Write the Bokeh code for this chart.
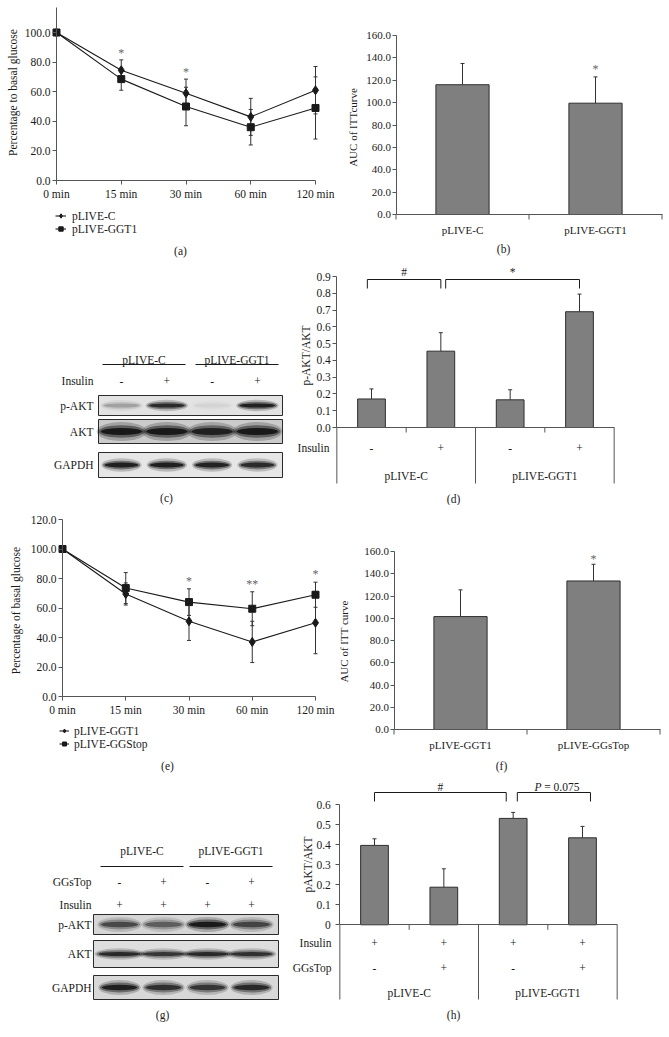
import numpy as np
from bokeh.plotting import figure
from bokeh.models import Range1d, LinearAxis, FixedTicker, NumeralTickFormatter, Legend, LegendItem
from bokeh.layouts import column, row
from bokeh.core.properties import value
from bokeh.embed import file_html
from bokeh.resources import INLINE

FONT = "Liberation Serif"
INK = "#1a1a1a"
AXIS = "#555555"
ERR = "#333333"
STAR = "#666666"
BAR_FILL = "#7f7f7f"
BAR_LINE = "#2e2e2e"

# ---------------- data ----------------
time_labels = ["0 min", "15 min", "30 min", "60 min", "120 min"]

a_ctrl = [100.0, 74.5, 59.0, 43.0, 61.0]
a_ctrl_err = [0.0, 7.0, 9.5, 12.5, 16.0]
a_ggt1 = [100.0, 68.5, 50.0, 36.0, 49.0]
a_ggt1_err = [0.0, 7.5, 13.0, 12.0, 21.0]
a_sig = ["", "*", "*", "", ""]

b_groups = ["pLIVE-C", "pLIVE-GGT1"]
b_auc = [116.0, 99.5]
b_err = [19.0, 23.5]
b_sig = ["", "*"]

c_groups = ["pLIVE-C", "pLIVE-GGT1"]
c_insulin = ["-", "+", "-", "+"]
c_rows = ["p-AKT", "AKT", "GAPDH"]
c_pakt = [0.22, 0.85, 0.04, 0.95]
c_akt = [1.0, 1.0, 0.92, 1.0]
c_gapdh = [0.95, 0.95, 0.92, 0.85]

d_ratio = [0.17, 0.455, 0.165, 0.69]
d_err = [0.06, 0.11, 0.06, 0.105]
d_insulin = ["-", "+", "-", "+"]
d_groups = ["pLIVE-C", "pLIVE-GGT1"]

e_ggt1 = [100.0, 69.5, 51.0, 37.0, 50.0]
e_ggt1_err = [0.0, 7.5, 13.0, 14.0, 21.0]
e_ggstop = [100.0, 73.5, 64.0, 59.5, 69.0]
e_ggstop_err = [0.0, 10.5, 9.0, 11.5, 8.5]
e_sig = ["", "", "*", "**", "*"]

f_groups = ["pLIVE-GGT1", "pLIVE-GGsTop"]
f_auc = [101.5, 133.5]
f_err = [24.0, 15.0]
f_sig = ["", "*"]

g_groups = ["pLIVE-C", "pLIVE-GGT1"]
g_ggstop = ["-", "+", "-", "+"]
g_insulin = ["+", "+", "+", "+"]
g_rows = ["p-AKT", "AKT", "GAPDH"]
g_pakt = [0.62, 0.5, 1.0, 0.65]
g_akt = [0.85, 0.75, 0.85, 0.8]
g_gapdh = [0.95, 0.8, 0.75, 0.85]

h_ratio = [0.397, 0.188, 0.532, 0.435]
h_err = [0.033, 0.092, 0.030, 0.057]
h_insulin = ["+", "+", "+", "+"]
h_ggstop = ["-", "+", "-", "+"]
h_groups = ["pLIVE-C", "pLIVE-GGT1"]


# ---------------- helpers ----------------
class Panel:
    def __init__(self, X0, X1, Y0, Y1, xcal, ycal):
        (sx0, dx0), (sx1, dx1) = xcal
        (sy0, dy0), (sy1, dy1) = ycal
        self.kx = (sx1 - sx0) / (dx1 - dx0)
        self.ox = sx0 - self.kx * dx0
        self.ky = (sy1 - sy0) / (dy1 - dy0)
        self.oy = sy0 - self.ky * dy0
        self.X0, self.X1, self.Y0, self.Y1 = X0, X1, Y0, Y1
        p = figure(width=X1 - X0, height=Y1 - Y0,
                   x_range=Range1d(self.dx(X0), self.dx(X1)),
                   y_range=Range1d(self.dy(Y1), self.dy(Y0)),
                   output_backend="svg", toolbar_location=None,
                   x_axis_location=None, y_axis_location=None,
                   min_border=0, outline_line_color=None,
                   background_fill_color="white", border_fill_color="white")
        p.xgrid.visible = False
        p.ygrid.visible = False
        self.p = p

    def dx(self, sx):
        return (sx - self.ox) / self.kx

    def dy(self, sy):
        return (sy - self.oy) / self.ky

    def text(self, sx, sy, s, size="11.5px", align="center", baseline="middle",
             angle=0.0, style="normal", color=INK):
        self.p.text(x=[self.dx(sx)], y=[self.dy(sy)], text=[s],
                    text_font=value(FONT), text_font_size=value(size),
                    text_align=align, text_baseline=baseline, angle=angle,
                    text_font_style=style, text_color=color)


def style_axis(ax, size):
    ax.axis_line_color = AXIS
    ax.axis_line_width = 1
    ax.major_tick_line_color = AXIS
    ax.minor_tick_line_color = None
    ax.major_label_text_font = FONT
    ax.major_label_text_font_size = size
    ax.major_label_text_color = INK
    return ax


def y_axis(P, loc, ticks, bounds, fmt, size, tick_out=4, standoff=2):
    ax = LinearAxis(fixed_location=loc, bounds=bounds,
                    ticker=FixedTicker(ticks=ticks),
                    formatter=NumeralTickFormatter(format=fmt),
                    major_tick_out=tick_out, major_tick_in=0,
                    major_label_standoff=standoff)
    style_axis(ax, size)
    P.p.add_layout(ax, "left")
    return ax


def x_axis(P, loc, ticks, bounds, size, labels=None, tick_out=4, standoff=3,
           show_line=True, show_ticks=True):
    ax = LinearAxis(fixed_location=loc, bounds=bounds,
                    ticker=FixedTicker(ticks=ticks),
                    major_tick_out=tick_out, major_tick_in=0,
                    major_label_standoff=standoff)
    if labels is not None:
        ax.major_label_overrides = {t: l for t, l in zip(ticks, labels)}
    style_axis(ax, size)
    if not show_line:
        ax.axis_line_color = None
    if not show_ticks:
        ax.major_tick_line_color = None
    P.p.add_layout(ax, "below")
    return ax


def errbars(p, x, y, e, both=True, cap=4):
    x = np.asarray(x, float)
    y = np.asarray(y, float)
    e = np.asarray(e, float)
    m = e > 0
    lo = (y - e) if both else y
    hi = y + e
    p.segment(x0=x[m], y0=lo[m], x1=x[m], y1=hi[m], line_color=ERR, line_width=1)
    if both:
        p.scatter(x=np.r_[x[m], x[m]], y=np.r_[lo[m], hi[m]], marker="dash",
                  size=cap, line_color=ERR, line_width=1)
    else:
        p.scatter(x=x[m], y=hi[m], marker="dash", size=cap, line_color=ERR, line_width=1)


def line_panel(P, s1, e1, m1, lab1, s2, e2, m2, lab2, sig, sig_off, size,
               ymax_tick, ybound, ylabel, ylab_xy, legend_xy, legend_h, glyph_w, standoff,
               letter, letter_xy):
    p = P.p
    xi = list(range(len(time_labels)))
    y_axis(P, 0, list(range(0, ymax_tick + 1, 20)), (0, ybound), "0.0", size)
    x_axis(P, 0, xi, (0, len(xi) - 1), size, labels=time_labels, tick_out=4, standoff=3)
    errbars(p, xi, s1, e1)
    errbars(p, xi, s2, e2)
    l1 = p.line(xi, s1, line_color=INK, line_width=1.1)
    k1 = p.scatter(xi, s1, marker=m1[0], size=m1[1], fill_color=INK, line_color=INK)
    l2 = p.line(xi, s2, line_color=INK, line_width=1.1)
    k2 = p.scatter(xi, s2, marker=m2[0], size=m2[1], fill_color=INK, line_color=INK)
    top = np.maximum(np.add(s1, e1), np.add(s2, e2)) + sig_off
    p.text(x=xi, y=top, text=sig, text_font=value(FONT), text_font_size=value("12px"),
           text_align="center", text_baseline="middle", text_color=STAR)
    P.text(ylab_xy[0], ylab_xy[1], ylabel, size=size, angle=np.pi / 2)
    leg = Legend(items=[LegendItem(label=lab1, renderers=[l1, k1]),
                        LegendItem(label=lab2, renderers=[l2, k2])],
                 location=(legend_xy[0] - P.X0, P.Y1 - legend_xy[1]),
                 orientation="vertical", border_line_color=None,
                 background_fill_alpha=0, label_text_font=FONT,
                 label_text_font_size=size, label_text_color=INK,
                 glyph_width=glyph_w, glyph_height=legend_h, label_height=legend_h,
                 label_standoff=standoff, spacing=0, padding=0, margin=0)
    p.add_layout(leg)
    P.text(letter_xy[0], letter_xy[1], letter)


def auc_panel(P, groups, vals, errs, sig, sig_off, size, ylabel, ylab_xy, letter, letter_xy,
              tick_len_px=5):
    p = P.p
    xi = np.arange(len(groups))
    y_axis(P, -0.5, list(range(0, 161, 20)), (0, 160), "0.0", size, tick_out=4, standoff=1)
    x_axis(P, 0, list(xi), (-0.5, len(groups) - 0.5), size, labels=groups,
           tick_out=0, standoff=9, show_ticks=False)
    b = np.arange(-0.5, len(groups), 1.0)
    y_tick = P.dy(P.oy + tick_len_px)
    p.segment(x0=b, y0=0, x1=b, y1=y_tick, line_color=AXIS, line_width=1)
    p.vbar(x=xi, top=vals, width=0.4, fill_color=BAR_FILL, line_color=BAR_LINE, line_width=1)
    errbars(p, xi, vals, errs, both=False, cap=4)
    p.text(x=xi, y=np.add(vals, errs) + sig_off, text=sig, text_font=value(FONT),
           text_font_size=value("12px"), text_align="center", text_baseline="middle",
           text_color=STAR)
    P.text(ylab_xy[0], ylab_xy[1], ylabel, size=size, angle=np.pi / 2)
    P.text(letter_xy[0], letter_xy[1], letter)


def ratio_panel(P, vals, errs, ymax, ticks, fmt, size, sign_rows, row_names, name_right,
                groups, group_sy, sep_bottom_sy, brackets, br_top, br_end, br_text,
                ylabel, ylab_xy, letter, letter_xy, standoff):
    p = P.p
    n = len(vals)
    xi = np.arange(n)
    y_axis(P, -0.5, ticks, (0, ymax), fmt, size, tick_out=4, standoff=standoff)
    x_axis(P, 0, [], (-0.5, n - 0.5), size)
    y_sep = P.dy(sep_bottom_sy)
    longs = np.arange(-0.5, n, 2.0)
    p.segment(x0=longs, y0=0, x1=longs, y1=y_sep, line_color=AXIS, line_width=1)
    shorts = np.arange(0.5, n, 2.0)
    p.segment(x0=shorts, y0=0, x1=shorts, y1=P.dy(P.oy + 5), line_color=AXIS, line_width=1)
    p.vbar(x=xi, top=vals, width=0.4, fill_color=BAR_FILL, line_color=BAR_LINE, line_width=1)
    errbars(p, xi, vals, errs, both=False, cap=4)
    for (signs, sy), name in zip(sign_rows, row_names):
        p.text(x=xi, y=[P.dy(sy)] * n, text=signs, text_font=value(FONT),
               text_font_size=value(size), text_align="center", text_baseline="middle",
               text_color=INK)
        P.text(name_right, sy, name, size=size, align="right")
    gx = np.arange(0.5, n, 2.0)
    p.text(x=gx, y=[P.dy(group_sy)] * len(gx), text=groups, text_font=value(FONT),
           text_font_size=value(size), text_align="center", text_baseline="middle",
           text_color=INK)
    for i, j, lab, li, ri in brackets:
        x0, x1 = i + li, j + ri
        p.multi_line(xs=[[x0, x0, x1, x1]], ys=[[br_end, br_top, br_top, br_end]],
                     line_color=INK, line_width=1)
        if lab.startswith("P"):
            mid = (x0 + x1) / 2
            p.text(x=[mid - 0.28], y=[br_text], text=["P"], text_font=value(FONT),
                   text_font_size=value(size), text_font_style="italic",
                   text_align="left", text_baseline="middle", text_color=INK)
            p.text(x=[mid - 0.14], y=[br_text], text=[lab[1:].strip()], text_font=value(FONT),
                   text_font_size=value(size), text_align="left", text_baseline="middle",
                   text_color=INK)
        else:
            p.text(x=[(x0 + x1) / 2], y=[br_text], text=[lab], text_font=value(FONT),
                   text_font_size=value(size), text_align="center", text_baseline="middle",
                   text_color=INK)
    P.text(ylab_xy[0], ylab_xy[1], ylabel, size=size, angle=np.pi / 2)
    P.text(letter_xy[0], letter_xy[1], letter)


def blot_panel(P, lane_x0, lane_dx, box_x, boxes, bg, bands, band_h, band_w,
               groups, group_sy, underline, ul_gap, sign_rows, sign_names, row_names,
               name_right, size, letter, letter_xy):
    p = P.p
    n = len(bands[0])
    lanes = lane_x0 + lane_dx * np.arange(n)
    for (top, bot), col, inten, h, w, name in zip(boxes, bg, bands, band_h, band_w, row_names):
        yc = (top + bot) / 2.0
        p.quad(left=box_x[0], right=box_x[1], top=top, bottom=bot, fill_color=col,
               line_color="#2b2b2b", line_width=1)
        inten = np.asarray(inten)
        for fw, fh, a in [(1.06, 1.9, 0.22), (0.98, 1.25, 0.45), (0.88, 0.7, 0.85)]:
            p.ellipse(x=lanes, y=[yc] * n, width=w * fw, height=h * fh,
                      fill_color="#0d0d0d", fill_alpha=list(a * inten), line_color=None)
        P.text(name_right, yc, name, size=size, align="right")
    for g, (u0, u1) in zip(groups, underline):
        P.text((u0 + u1) / 2, group_sy, g, size=size)
        p.segment(x0=[u0], y0=[group_sy + ul_gap], x1=[u1], y1=[group_sy + ul_gap],
                  line_color=INK, line_width=1)
    for (signs, sy), name in zip(sign_rows, sign_names):
        p.text(x=lanes, y=[sy] * n, text=signs, text_font=value(FONT),
               text_font_size=value(size), text_align="center", text_baseline="middle",
               text_color=INK)
        P.text(name_right, sy, name, size=size, align="right")
    P.text(letter_xy[0], letter_xy[1], letter)


RIGHT = 667

# ---------------- panel (a) ----------------
A = Panel(0, 336, 0, 258, ((56, 0), (315, 4)), ((180, 0), (32, 100)))
line_panel(A, a_ctrl, a_ctrl_err, ("diamond", 9), "pLIVE-C",
           a_ggt1, a_ggt1_err, ("square", 7), "pLIVE-GGT1",
           a_sig, 4.5, "11.5px", 100, 117, "Percentage to basal glucose", (12.5, 92),
           (55, 235), 13, 11, 6, "(a)", (180, 250))

# ---------------- panel (b) ----------------
B = Panel(336, RIGHT, 0, 258, ((462, 0), (595, 1)), ((214, 0), (35, 160)))
auc_panel(B, b_groups, b_auc, b_err, b_sig, 7.0, "11px", "AUC of ITTcurve", (352, 127),
          "(b)", (503, 248))

# ---------------- panel (c) ----------------
C = Panel(0, 290, 258, 505, ((0, 0), (1, 1)), ((0, 0), (1, 1)))
blot_panel(C, 121, 45.3, (98, 282), [(395, 415), (419, 443), (452, 477)],
           ["#e3e3e3", "#cbcbcb", "#e6e6e6"], [c_pakt, c_akt, c_gapdh],
           [6, 10, 7], [40, 47, 38], c_groups, 359, [(102, 185), (195, 278)], 5,
           [(c_insulin, 380)], ["Insulin"], c_rows, 93, "11.5px", "(c)", (166, 497))

# ---------------- panel (d) ----------------
D = Panel(290, RIGHT, 258, 505, ((371, 0), (579, 3)), ((427, 0), (276, 0.9)))
ratio_panel(D, d_ratio, d_err, 0.9, [round(0.1 * k, 1) for k in range(10)], "0.0", "11.5px",
            [(d_insulin, 447)], ["Insulin"], 329, d_groups, 475, 483,
            [(0, 1, "#", -0.06, 0.0), (1, 3, "*", 0.07, 0.0)],
            D.dy(279), D.dy(288), D.dy(271), "p-AKT/AKT", (305, 355), "(d)", (453, 498), 2)

# ---------------- panel (e) ----------------
E = Panel(0, 337, 505, 775, ((62, 0), (315, 4)), ((696, 0), (519, 120)))
line_panel(E, e_ggt1, e_ggt1_err, ("diamond", 9), "pLIVE-GGT1",
           e_ggstop, e_ggstop_err, ("square", 7), "pLIVE-GGStop",
           e_sig, 5.5, "11.5px", 120, 120, "Percentage of basal glucose", (15, 610),
           (59, 750), 13, 10, 5, "(e)", (167, 765))

# ---------------- panel (f) ----------------
F = Panel(337, RIGHT, 505, 775, ((460, 0), (593, 1)), ((729, 0), (551, 160)))
auc_panel(F, f_groups, f_auc, f_err, f_sig, 5.0, "11px", "AUC of ITT curve", (343, 641),
          "(f)", (501, 765))

# ---------------- panel (g) ----------------
G = Panel(0, 283, 775, 1030, ((0, 0), (1, 1)), ((0, 0), (1, 1)))
blot_panel(G, 119, 44.0, (93, 278), [(914, 934), (940, 967), (975, 999)],
           ["#d6d6d6", "#dedede", "#d8d8d8"], [g_pakt, g_akt, g_gapdh],
           [8, 6, 8], [42, 47, 40], g_groups, 850, [(100, 183), (189, 272)], 16,
           [(g_ggstop, 881), (g_insulin, 904)], ["GGsTop", "Insulin"], g_rows, 91,
           "11.5px", "(g)", (162, 1014))

# ---------------- panel (h) ----------------
H = Panel(283, RIGHT, 775, 1030, ((374, 0), (582, 3)), ((924.3, 0), (804.3, 0.6)))
ratio_panel(H, h_ratio, h_err, 0.6, [round(0.1 * k, 1) for k in range(7)], "0.[0]", "11.5px",
            [(h_insulin, 942), (h_ggstop, 967)], ["Insulin", "GGsTop"], 331, h_groups, 992, 999,
            [(0, 2, "#", 0.0, -0.1), (2, 3, "P = 0.075", 0.06, 0.115)],
            H.dy(792), H.dy(801), H.dy(786), "pAKT/AKT", (307, 864), "(h)", (453, 1014), 5)

layout = column(row(A.p, B.p), row(C.p, D.p), row(E.p, F.p), row(G.p, H.p))
open("out.html", "w").write(file_html(layout, INLINE))
